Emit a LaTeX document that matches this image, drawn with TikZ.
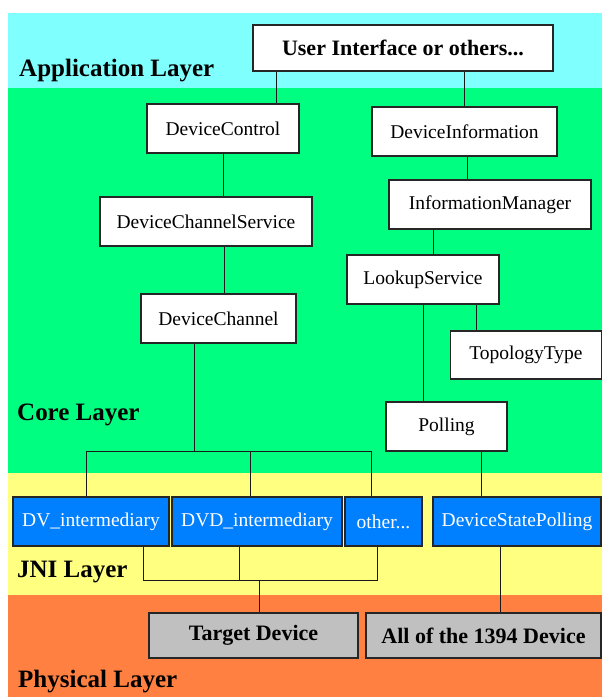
\documentclass[tikz,border=0pt]{standalone}
\usepackage{fontspec}
\setmainfont{Liberation Serif}
\definecolor{appcol}{HTML}{80FFFF}
\definecolor{corecol}{HTML}{00FF80}
\definecolor{jnicol}{HTML}{FFFF80}
\definecolor{physcol}{HTML}{FF8040}
\definecolor{jniblue}{HTML}{0080FF}
\definecolor{devgray}{HTML}{C0C0C0}
\tikzset{
  box/.style={draw=black!85, line width=1.2pt, fill=white, inner sep=0pt,
    font=\fontsize{19.5}{22}\selectfont},
  jnibox/.style={box, fill=jniblue, text=white},
  devbox/.style={box, fill=devgray, font=\fontsize{22}{25}\selectfont\bfseries},
  layername/.style={anchor=base west, inner sep=0pt,
    font=\fontsize{25}{28}\selectfont\bfseries},
  wire/.style={draw=black!90, line width=0.9pt}
}
\begin{document}
\begin{tikzpicture}[x=1pt, y=-1pt]
\useasboundingbox (0,0) rectangle (602,697);
\fill[white] (0,0) rectangle (602,697);
% layer bands
\fill[appcol]  (8,13)  rectangle (602,88);
\fill[corecol] (8,88)  rectangle (602,473);
\fill[jnicol]  (8,473) rectangle (602,595);
\fill[physcol] (8,595) rectangle (602,697);

% layer names
\node[layername] (lapp)  at (19,76)  {Application Layer};
\node[layername] (lcore) at (17,420) {Core Layer};
\node[layername] (ljni)  at (17,577) {JNI Layer};
\node[layername] (lphys) at (18,687) {Physical Layer};

% application layer
\node[box, font=\fontsize{22}{25}\selectfont\bfseries,
      minimum width=300, minimum height=46] (ui) at (403,48) {User Interface or others...};

% core layer
\node[box, minimum width=152, minimum height=49] (dc)  at (223,128.5) {DeviceControl};
\node[box, minimum width=185, minimum height=49] (di)  at (464.5,131.5) {DeviceInformation};
\node[box, minimum width=212, minimum height=49] (dcs) at (206,221.5) {DeviceChannelService};
\node[box, minimum width=202, minimum height=49] (im)  at (490,204.5) {InformationManager};
\node[box, minimum width=152, minimum height=49] (lk)  at (423,279.5) {LookupService};
\node[box, minimum width=155, minimum height=49] (dch) at (218.5,318.5) {DeviceChannel};
\node[box, minimum width=151, minimum height=48] (tt)  at (526,355) {TopologyType};
\node[box, minimum width=121, minimum height=49] (pol) at (446.5,426.5) {Polling};

% JNI layer
\node[jnibox, minimum width=156, minimum height=49] (dv)  at (91,521.5)  {DV\_intermediary};
\node[jnibox, minimum width=170, minimum height=49] (dvd) at (257,521.5) {DVD\_intermediary};
\node[jnibox, minimum width=77,  minimum height=49] (oth) at (383.5,521.5) {other...};
\node[jnibox, minimum width=168, minimum height=49] (dsp) at (517,521.5) {DeviceStatePolling};

% physical layer
\node[devbox, minimum width=209, minimum height=45] (tgt) at (253.5,635.5) {Target Device};
\node[devbox, minimum width=235, minimum height=45] (all) at (483.5,635.5) {All of the 1394 Device};

% columns of the vertical links
\coordinate (xa) at (276,0);
\coordinate (xb) at (224,0);
\coordinate (xc) at (467,0);
\coordinate (xd) at (433,0);
\coordinate (xe) at (476,0);
\coordinate (xf) at (481,0);
\coordinate (xg) at (500,0);

\draw[wire] (xa |- ui.south) -- (xa |- dc.north);
\draw[wire] (di.north) -- (di.north |- ui.south);
\draw[wire] (dc.south) -- (dc.south |- dcs.north);
\draw[wire] (xb |- dcs.south) -- (xb |- dch.north);
\draw[wire] (xc |- di.south) -- (xc |- im.north);
\draw[wire] (xd |- im.south) -- (xd |- lk.north);
\draw[wire] (xe |- lk.south) -- (xe |- tt.north);
\draw[wire] (lk.south) -- (lk.south |- pol.north);
\draw[wire] (xf |- pol.south) -- (xf |- dsp.north);
\draw[wire] (xg |- dsp.south) -- (xg |- all.north);

% fan-out from DeviceChannel to the JNI classes
\coordinate (b1) at (86,451);
\coordinate (b2) at (250,451);
\coordinate (b3) at (371,451);
\coordinate (bc) at (194,451);
\draw[wire] (b1 |- dv.north) -- (b1) -- (b3) -- (b3 |- oth.north);
\draw[wire] (b2) -- (b2 |- dvd.north);
\draw[wire] (bc) -- (bc |- dch.south);

% fan-in from the JNI classes to the target device
\coordinate (l1) at (143,580);
\coordinate (l2) at (239,580);
\coordinate (l3) at (377,580);
\coordinate (lc) at (259,580);
\draw[wire] (l1 |- dv.south) -- (l1) -- (l3) -- (l3 |- oth.south);
\draw[wire] (l2 |- dvd.south) -- (l2);
\draw[wire] (lc) -- (lc |- tgt.north);
\end{tikzpicture}
\end{document}
